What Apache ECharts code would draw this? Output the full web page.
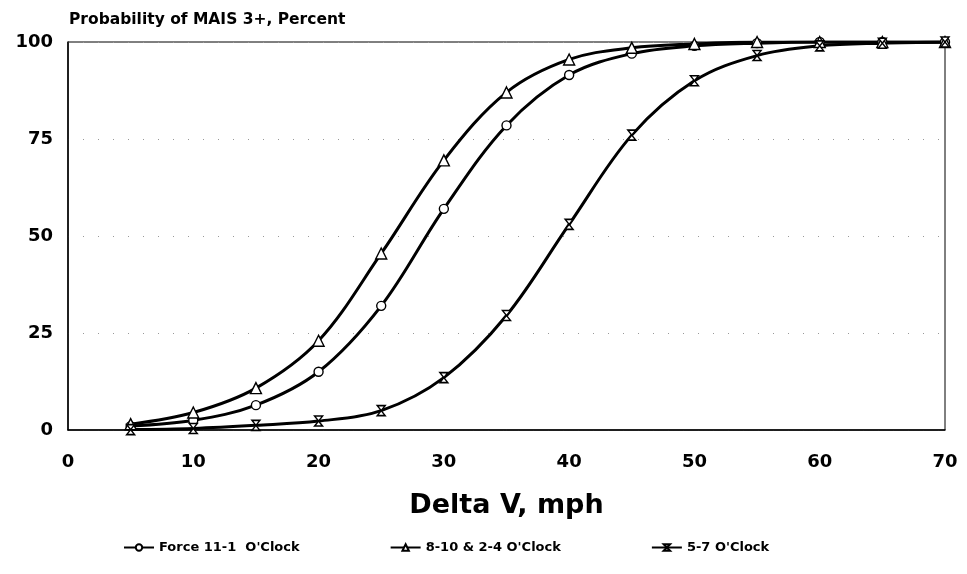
<!DOCTYPE html>
<html>
<head>
<meta charset="utf-8">
<script src="https://cdn.jsdelivr.net/npm/echarts@6/dist/echarts.min.js"></script>
<style>
    html, body { margin: 0; padding: 0; background: #fff; }
    #chart { width: 967px; height: 574px; }
</style>
</head>
<body>
<div id="chart"></div>
<script>
// delta V, mph
var speeds = [5, 10, 15, 20, 25, 30, 35, 40, 45, 50, 55, 60, 65, 70]
// probability of MAIS 3+, percent
var force11to1 = [1, 2.5, 6.4, 15, 32, 57, 78.5, 91.5, 97, 99, 99.7, 100, 100, 100]
var side8to10 = [1.5, 4.5, 10.8, 23, 45.5, 69.5, 87, 95.5, 98.5, 99.5, 100, 100, 100, 100]
var rear5to7 = [0.1, 0.4, 1.2, 2.3, 5, 13.5, 29.5, 53, 76, 90, 96.5, 99, 99.7, 100]
var seriesNames = ['Force 11-1  O\'Clock', '8-10 & 2-4 O\'Clock', '5-7 O\'Clock']

var wideFont = '"DejaVu Sans", sans-serif'
var hourglass = 'path://M0,0L10,0L0,12L10,12Z'

function pairs(vals) {
    return speeds.map(function (s, i) { return [s, vals[i]] })
}

function makeSeries(name, vals, symbol, size) {
    return {
        name: name,
        type: 'line',
        data: pairs(vals),
        smooth: 0.35,
        symbol: symbol,
        symbolSize: size,
        showAllSymbol: true,
        lineStyle: { width: 3, color: '#000' },
        itemStyle: { color: '#fff', borderColor: '#000', borderWidth: 1.4 },
        emphasis: { disabled: true }
    }
}

var myChart = echarts.init(document.getElementById('chart'))
var option = {
    backgroundColor: '#fff',
    animation: false,
    title: {
        text: 'Probability of MAIS 3+, Percent',
        left: 64,
        top: 7,
        textStyle: { color: '#000', fontWeight: 'bold', fontSize: 15.5, fontFamily: wideFont }
    },
    grid: { left: 68, right: 22, top: 42, bottom: 144, show: true, borderColor: '#000', borderWidth: 1 },
    legend: {
        bottom: 15,
        left: 118,
        itemGap: 90,
        itemWidth: 30,
        itemHeight: 8,
        data: seriesNames,
        textStyle: { color: '#000', fontWeight: 'bold', fontSize: 13, fontFamily: wideFont }
    },
    xAxis: {
        type: 'value',
        min: 0,
        max: 70,
        interval: 10,
        name: 'Delta V, mph',
        nameLocation: 'middle',
        nameGap: 62,
        nameTextStyle: { color: '#000', fontSize: 27, fontWeight: 'bold', fontFamily: wideFont },
        axisLine: { lineStyle: { color: '#000', width: 1.5 } },
        axisTick: { show: false },
        axisLabel: { color: '#000', fontWeight: 'bold', fontSize: 18, fontFamily: wideFont, margin: 23 },
        splitLine: { show: false }
    },
    yAxis: {
        type: 'value',
        min: 0,
        max: 100,
        interval: 25,
        axisLine: { show: true, lineStyle: { color: '#000', width: 1.5 } },
        axisTick: { show: false },
        axisLabel: { color: '#000', fontWeight: 'bold', fontSize: 18, fontFamily: wideFont, margin: 15 },
        splitLine: { show: true, lineStyle: { color: '#999', type: [1, 14], width: 1 } }
    },
    series: [
        makeSeries(seriesNames[0], force11to1, 'circle', 9),
        makeSeries(seriesNames[1], side8to10, 'triangle', 11),
        makeSeries(seriesNames[2], rear5to7, hourglass, [8, 10])
    ]
}
myChart.setOption(option)
</script>
</body>
</html>
